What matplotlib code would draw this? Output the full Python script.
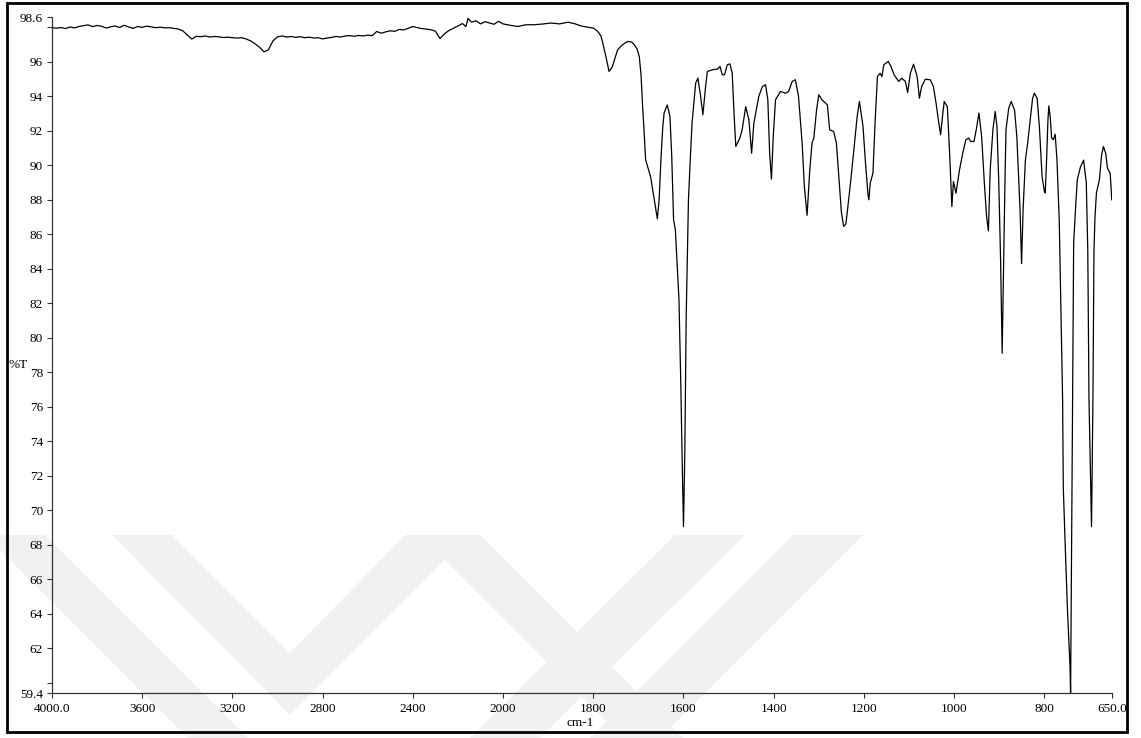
import numpy as np
import matplotlib
matplotlib.use("Agg")
import matplotlib.pyplot as plt
from matplotlib.patches import Polygon, Rectangle

# Wavenumbers (cm-1) and transmittance (%T), high to low wavenumber
wavenumber = [
    4000, 3980, 3960, 3940, 3920, 3900, 3880, 3860, 3840, 3820, 3800, 3780,
    3760, 3740, 3720, 3700, 3680, 3660, 3640, 3620, 3600, 3580, 3560, 3540,
    3520, 3500, 3480, 3460, 3440, 3420, 3400, 3380, 3360, 3340, 3320, 3300,
    3280, 3260, 3240, 3220, 3200, 3180, 3160, 3140, 3120, 3100, 3080, 3060,
    3040, 3020, 3000, 2980, 2960, 2940, 2920, 2900, 2880, 2860, 2840, 2820,
    2800, 2780, 2760, 2740, 2720, 2700, 2680, 2660, 2640, 2620, 2600, 2580,
    2560, 2540, 2520, 2500, 2480, 2460, 2440, 2420, 2400, 2380, 2360, 2340,
    2320, 2300, 2280, 2260, 2240, 2220, 2200, 2180, 2165, 2155, 2140, 2120,
    2100, 2080, 2060, 2040, 2020, 2000, 1980, 1967, 1950, 1931, 1910, 1894,
    1875, 1856, 1840, 1827, 1810, 1799, 1790, 1783, 1779, 1772, 1765, 1758,
    1746, 1735, 1724, 1715, 1709, 1703, 1698, 1694, 1691, 1687, 1684, 1678,
    1673, 1667, 1662, 1658, 1654, 1650, 1646, 1643, 1636, 1630, 1626, 1622,
    1618, 1610, 1606, 1602, 1600, 1597, 1594, 1589, 1584, 1581, 1573, 1568,
    1562, 1557, 1551, 1547, 1536, 1525, 1519, 1514, 1509, 1503, 1497, 1492,
    1488, 1484, 1475, 1470, 1462, 1455, 1449, 1444, 1433, 1425, 1418, 1413,
    1409, 1405, 1401, 1396, 1385, 1374, 1367, 1359, 1352, 1345, 1337, 1332,
    1326, 1320, 1315, 1311, 1305, 1300, 1293, 1281, 1276, 1267, 1261, 1256,
    1250, 1245, 1240, 1236, 1229, 1223, 1215, 1210, 1202, 1197, 1191, 1189,
    1186, 1180, 1175, 1170, 1164, 1160, 1156, 1146, 1140, 1133, 1123, 1116,
    1108, 1103, 1097, 1090, 1082, 1077, 1072, 1064, 1053, 1046, 1040, 1035,
    1030, 1025, 1022, 1015, 1010, 1005, 1001.5, 996, 988, 981, 974, 968,
    963, 956, 951, 945, 939, 933, 928, 924, 920, 914, 909, 905,
    901, 897, 893.5, 890, 887, 885, 879, 873.5, 866, 861, 858, 854,
    850.5, 847, 842, 837, 832, 826, 822, 816, 811, 805, 800, 798,
    795, 792, 790, 787, 784, 780, 776, 772, 767, 762, 759.5, 758,
    754.4, 749, 743, 741.8, 737.4, 735, 731, 727, 720, 713, 707, 703.7,
    701, 695.4, 692.3, 690, 687.7, 684.5, 678, 673, 669, 664, 660, 654,
    650.5,
]
transmittance = [
    97.98, 97.95, 97.99, 97.93, 98.02, 97.97, 98.05, 98.10, 98.14, 98.04, 98.11, 98.06,
    97.96, 98.03, 98.08, 97.99, 98.12, 98.02, 97.94, 98.05, 98.00, 98.07, 98.03, 97.98,
    98.01, 97.97, 97.98, 97.94, 97.90, 97.80, 97.55, 97.32, 97.48, 97.46, 97.50, 97.44,
    97.47, 97.45, 97.41, 97.43, 97.40, 97.38, 97.40, 97.33, 97.22, 97.05, 96.85, 96.58,
    96.70, 97.22, 97.45, 97.50, 97.44, 97.47, 97.42, 97.46, 97.40, 97.43, 97.38, 97.40,
    97.33, 97.38, 97.42, 97.47, 97.44, 97.50, 97.52, 97.48, 97.53, 97.50, 97.55, 97.52,
    97.76, 97.66, 97.74, 97.80, 97.77, 97.88, 97.85, 97.95, 98.05, 97.98, 97.93, 97.90,
    97.86, 97.78, 97.35, 97.62, 97.82, 97.95, 98.08, 98.22, 98.05, 98.52, 98.30, 98.38,
    98.20, 98.33, 98.25, 98.18, 98.35, 98.20, 98.10, 98.05, 98.15, 98.15, 98.20, 98.25,
    98.20, 98.30, 98.20, 98.08, 98.00, 97.95, 97.76, 97.50, 97.09, 96.30, 95.44, 95.70,
    96.70, 97.00, 97.18, 97.15, 96.99, 96.75, 96.30, 95.20, 93.60, 91.80, 90.32, 89.80,
    89.35, 88.38, 87.60, 86.90, 88.00, 90.32, 92.20, 93.03, 93.50, 92.83, 90.50, 86.84,
    86.26, 82.20, 77.36, 71.57, 69.05, 73.50, 81.23, 88.00, 90.90, 92.45, 94.77, 95.06,
    94.00, 92.93, 94.57, 95.44, 95.54, 95.58, 95.73, 95.25, 95.25, 95.83, 95.88, 95.34,
    93.03, 91.09, 91.58, 92.06, 93.40, 92.64, 90.70, 92.45, 94.00, 94.57, 94.67, 93.80,
    90.70, 89.20, 91.67, 93.80, 94.28, 94.18, 94.28, 94.86, 94.96, 94.00, 91.29, 88.77,
    87.10, 89.74, 91.29, 91.58, 93.20, 94.09, 93.80, 93.50, 92.06, 91.96, 91.29, 89.50,
    87.30, 86.45, 86.60, 87.50, 89.16, 90.70, 92.83, 93.70, 92.25, 90.32, 88.30, 88.00,
    88.97, 89.54, 92.64, 95.15, 95.34, 95.15, 95.83, 96.02, 95.73, 95.25, 94.86, 95.05,
    94.86, 94.22, 95.34, 95.86, 95.15, 93.89, 94.57, 94.99, 94.96, 94.57, 93.60, 92.64,
    91.77, 93.03, 93.70, 93.40, 90.70, 87.60, 89.06, 88.38, 89.74, 90.70, 91.48, 91.58,
    91.38, 91.38, 92.06, 93.03, 91.67, 88.97, 87.03, 86.20, 89.74, 92.06, 93.12, 92.25,
    89.00, 84.50, 79.10, 84.80, 89.50, 92.06, 93.30, 93.70, 93.20, 91.67, 89.90, 87.50,
    84.30, 87.50, 90.30, 91.29, 92.45, 93.89, 94.18, 93.89, 92.25, 89.35, 88.50, 88.40,
    90.32, 92.64, 93.45, 92.83, 91.60, 91.48, 91.80, 90.32, 86.84, 80.00, 76.40, 71.37,
    68.47, 64.40, 60.90, 59.40, 76.40, 85.50, 87.40, 89.16, 89.90, 90.30, 89.00, 85.10,
    76.40, 69.05, 76.40, 85.00, 87.00, 88.40, 89.16, 90.60, 91.09, 90.70, 89.83, 89.54,
    88.00,
]

x_ticks = [4000, 3600, 3200, 2800, 2400, 2000, 1800, 1600, 1400, 1200, 1000, 800, 650]
x_tick_labels = ["4000.0", "3600", "3200", "2800", "2400", "2000", "1800",
                 "1600", "1400", "1200", "1000", "800", "650.0"]
y_ticks = [59.4, 60, 62, 64, 66, 68, 70, 72, 74, 76, 78, 80, 82, 84, 86, 88,
           90, 92, 94, 96, 98, 98.6]
y_tick_labels = ["59.4", "", "62", "64", "66", "68", "70", "72", "74", "76", "78",
                 "80", "82", "84", "86", "88", "90", "92", "94", "96", "", "98.6"]

W, H = 1141, 738
plt.rcParams["font.family"] = ["Liberation Serif", "DejaVu Serif"]

fig = plt.figure(figsize=(W / 100, H / 100), dpi=100)
fig.patch.set_facecolor("white")


def px(x, y):
    """Figure-fraction coordinates from pixel position (origin top-left)."""
    return (x / W, 1 - y / H)


# Light grey chevron watermark in the lower part of the page
wm_color = "#f1f1f1"
wm_shapes = [
    [(-15, 535), (45, 535), (248, 738), (188, 738)],
    [(112, 535), (172, 535), (290, 653), (405, 535), (470, 535), (290, 715)],
    [(470, 738), (540, 738), (745, 535), (675, 535)],
    [(590, 738), (660, 738), (863, 535), (793, 535)],
    [(420, 535), (480, 535), (683, 738), (623, 738)],
]
for shape in wm_shapes:
    fig.patches.append(Polygon([px(*p) for p in shape], closed=True,
                               transform=fig.transFigure, facecolor=wm_color,
                               edgecolor="none", zorder=-5))

# Frame around the whole figure
x0, y0 = px(7, 732)
x1, y1 = px(1127, 3)
fig.patches.append(Rectangle((x0, y0), x1 - x0, y1 - y0, transform=fig.transFigure,
                             fill=False, edgecolor="black", linewidth=2.0, zorder=5))

left, right = 52 / W, 1112 / W
bottom, top = 1 - 693 / H, 1 - 17 / H
ax = fig.add_axes([left, bottom, right - left, top - bottom])
ax.set_facecolor("none")


# Wavenumber axis: 2000-650 cm-1 is drawn at twice the scale of 4000-2000 cm-1
def fwd(x):
    x = np.asarray(x, dtype=float)
    return np.where(x >= 2000, x, 2 * x - 2000)


def inv(u):
    u = np.asarray(u, dtype=float)
    return np.where(u >= 2000, u, (u + 2000) / 2)


ax.set_xscale("function", functions=(fwd, inv))
ax.plot(wavenumber, transmittance, color="black", linewidth=0.9, solid_joinstyle="round")
ax.set_xlim(4000, 650)
ax.set_ylim(59.4, 98.6)

ax.set_xticks(x_ticks)
ax.set_xticklabels(x_tick_labels)
ax.set_yticks(y_ticks)
ax.set_yticklabels(y_tick_labels)
ax.minorticks_off()
ax.tick_params(axis="both", direction="out", length=3.5, width=0.8, color="#333333",
               labelsize=9.5, pad=3)
ax.tick_params(axis="x", pad=3.5)

for side in ("top", "right"):
    ax.spines[side].set_visible(False)
for side in ("left", "bottom"):
    ax.spines[side].set_linewidth(0.9)
    ax.spines[side].set_color("#333333")

fig.text(18 / W, 1 - 365 / H, "%T", fontsize=9.5, ha="center", va="center")
fig.text(580 / W, 1 - 723 / H, "cm-1", fontsize=9.5, ha="center", va="center")

fig.savefig("out.png", dpi=100, facecolor="white")
